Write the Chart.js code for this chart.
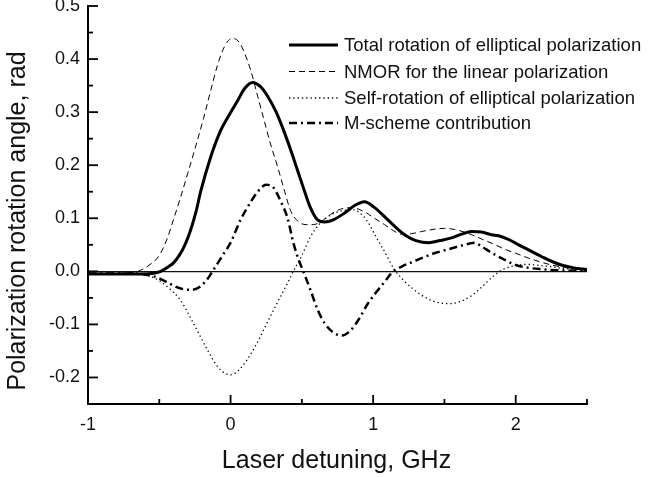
<!DOCTYPE html>
<html>
<head>
<meta charset="utf-8">
<script src="https://cdn.jsdelivr.net/npm/chart.js@4.4.1/dist/chart.umd.min.js"></script>
<style>
  html, body { margin: 0; padding: 0; background: #fff; }
  #wrap { width: 648px; height: 477px; }
</style>
</head>
<body>
<div id="wrap"><canvas id="chart" width="648" height="477"></canvas></div>
<script>
/* Polarization rotation vs laser detuning — four curves */
const FONT = '"Liberation Sans", Arial, sans-serif';

// series labels
const labels = [
  "Total rotation of elliptical polarization",
  "NMOR for the linear polarization",
  "Self-rotation of elliptical polarization",
  "M-scheme contribution",
];

// x axis ticks (GHz) and y axis ticks (rad)
const xTicksMajor = [-1, 0, 1, 2];
const yTicksMajor = [-0.2, -0.1, 0.0, 0.1, 0.2, 0.3, 0.4, 0.5];

// total rotation (thick solid)
const totalX = [-1, -0.7, -0.55, -0.49, -0.44, -0.4, -0.36, -0.32, -0.28, -0.24, -0.21, -0.14, -0.07, -0.02, 0.05, 0.1, 0.155, 0.21, 0.26, 0.32, 0.37, 0.42, 0.47, 0.52, 0.56, 0.61, 0.66, 0.72, 0.8, 0.87, 0.94, 1.01, 1.08, 1.15, 1.22, 1.3, 1.39, 1.47, 1.55, 1.62, 1.69, 1.76, 1.83, 1.88, 1.95, 2.02, 2.1, 2.18, 2.25, 2.32, 2.4, 2.5];
const totalY = [-0.005, -0.005, -0.004, 0.0, 0.008, 0.016, 0.03, 0.05, 0.078, 0.115, 0.15, 0.215, 0.265, 0.29, 0.322, 0.345, 0.356, 0.348, 0.33, 0.3, 0.267, 0.23, 0.19, 0.15, 0.12, 0.097, 0.093, 0.097, 0.11, 0.124, 0.131, 0.12, 0.103, 0.085, 0.069, 0.058, 0.054, 0.058, 0.063, 0.07, 0.075, 0.074, 0.069, 0.067, 0.06, 0.05, 0.039, 0.028, 0.019, 0.012, 0.007, 0.003];

// NMOR, linear polarization (thin dashed)
const nmorX = [-1, -0.75, -0.65, -0.58, -0.5, -0.44, -0.4, -0.35, -0.3, -0.24, -0.19, -0.14, -0.09, -0.04, 0.01, 0.06, 0.1, 0.14, 0.19, 0.23, 0.28, 0.33, 0.38, 0.42, 0.47, 0.53, 0.58, 0.64, 0.7, 0.77, 0.85, 0.94, 1.01, 1.08, 1.14, 1.2, 1.27, 1.34, 1.42, 1.5, 1.57, 1.64, 1.7, 1.76, 1.84, 1.92, 2.0, 2.09, 2.17, 2.25, 2.35, 2.44, 2.5];
const nmorY = [-0.004, -0.003, 0.0, 0.01, 0.03, 0.065, 0.098, 0.14, 0.185, 0.24, 0.288, 0.34, 0.39, 0.425, 0.439, 0.432, 0.41, 0.38, 0.33, 0.29, 0.24, 0.197, 0.15, 0.115, 0.095, 0.088, 0.088, 0.095, 0.107, 0.117, 0.12, 0.112, 0.1, 0.088, 0.077, 0.07, 0.071, 0.075, 0.079, 0.081, 0.079, 0.074, 0.068, 0.061, 0.052, 0.042, 0.034, 0.025, 0.018, 0.012, 0.007, 0.004, 0.003];

// self-rotation of elliptical polarization (dotted)
const selfX = [-1, -0.7, -0.6, -0.51, -0.43, -0.35, -0.28, -0.2, -0.15, -0.09, -0.04, 0.0, 0.05, 0.12, 0.19, 0.26, 0.33, 0.4, 0.44, 0.5, 0.56, 0.62, 0.7, 0.78, 0.86, 0.92, 0.97, 1.02, 1.07, 1.15, 1.21, 1.27, 1.34, 1.41, 1.48, 1.53, 1.6, 1.69, 1.76, 1.83, 1.9, 1.98, 2.08, 2.2, 2.35, 2.5];
const selfY = [-0.004, -0.004, -0.006, -0.016, -0.032, -0.055, -0.088, -0.129, -0.154, -0.18, -0.192, -0.195, -0.188, -0.165, -0.133, -0.095, -0.058, -0.022, 0.0, 0.03, 0.065, 0.088, 0.106, 0.114, 0.116, 0.107, 0.09, 0.065, 0.042, 0.003, -0.016, -0.031, -0.045, -0.055, -0.06, -0.061, -0.058, -0.046, -0.03, -0.012, 0.002, 0.01, 0.013, 0.01, 0.005, 0.002];

// M-scheme contribution (dash-dot)
const mschX = [-1, -0.7, -0.6, -0.51, -0.45, -0.4, -0.34, -0.28, -0.22, -0.18, -0.15, -0.12, -0.06, 0.0, 0.07, 0.14, 0.19, 0.25, 0.3, 0.35, 0.4, 0.44, 0.48, 0.51, 0.56, 0.61, 0.66, 0.72, 0.78, 0.84, 0.9, 0.96, 1.02, 1.08, 1.13, 1.2, 1.28, 1.36, 1.44, 1.52, 1.6, 1.67, 1.71, 1.76, 1.83, 1.92, 2.0, 2.08, 2.18, 2.3, 2.5];
const mschY = [-0.004, -0.004, -0.006, -0.012, -0.02, -0.027, -0.033, -0.035, -0.03, -0.02, -0.01, 0.003, 0.028, 0.054, 0.097, 0.13, 0.15, 0.163, 0.158, 0.133, 0.1, 0.054, 0.02, 0.0, -0.035, -0.072, -0.098, -0.115, -0.121, -0.112, -0.09, -0.062, -0.04, -0.02, -0.003, 0.009, 0.018, 0.027, 0.035, 0.041, 0.047, 0.052, 0.054, 0.047, 0.035, 0.022, 0.012, 0.007, 0.004, 0.002, 0.001];

const pts = (xs, ys) => xs.map((x, i) => ({ x, y: ys[i] }));

const isMajorX = (v) => xTicksMajor.some(t => Math.abs(t - v) < 1e-6);
const isMajorY = (v) => yTicksMajor.some(t => Math.abs(t - v) < 1e-6);

// legend drawn inside the plot, top right
const legendBox = { lineX0: 289, lineX1: 338, textX: 344, rows: [45, 71.5, 98, 123] };

const insideLegend = {
  id: "insideLegend",
  afterDatasetsDraw(chart) {
    const ctx = chart.ctx;
    ctx.save();
    ctx.font = `18.5px ${FONT}`;
    ctx.textBaseline = "middle";
    ctx.fillStyle = "#111";
    chart.data.datasets.forEach((ds, i) => {
      const y = legendBox.rows[i];
      ctx.save();
      ctx.strokeStyle = ds.borderColor;
      ctx.lineWidth = ds.borderWidth;
      ctx.setLineDash(ds.borderDash || []);
      ctx.beginPath();
      ctx.moveTo(legendBox.lineX0, y);
      ctx.lineTo(legendBox.lineX1, y);
      ctx.stroke();
      ctx.restore();
      ctx.fillText(ds.label, legendBox.textX, y + 1);
    });
    ctx.restore();
  }
};

// tick marks pointing into the plot, long for labelled ticks
const innerTicks = {
  id: "innerTicks",
  afterDraw(chart) {
    const { ctx, chartArea: a, scales: { x, y } } = chart;
    ctx.save();
    ctx.strokeStyle = "#000";
    ctx.lineWidth = 1.8;
    x.ticks.forEach(t => {
      const px = x.getPixelForValue(t.value);
      const len = isMajorX(t.value) ? 9 : 5;
      ctx.beginPath(); ctx.moveTo(px, a.bottom); ctx.lineTo(px, a.bottom - len); ctx.stroke();
    });
    y.ticks.forEach(t => {
      const py = y.getPixelForValue(t.value);
      const len = isMajorY(t.value) ? 10 : 5;
      ctx.beginPath(); ctx.moveTo(a.left, py); ctx.lineTo(a.left + len, py); ctx.stroke();
    });
    ctx.restore();
  }
};

// axis titles
const axisTitles = {
  id: "axisTitles",
  afterDraw(chart) {
    const { ctx, chartArea: a } = chart;
    ctx.save();
    ctx.fillStyle = "#111";
    ctx.font = `25px ${FONT}`;
    ctx.textAlign = "center";
    ctx.textBaseline = "alphabetic";
    ctx.fillText("Laser detuning, GHz", (a.left + a.right) / 2 - 1, 468);
    ctx.translate(25, 221);
    ctx.rotate(-Math.PI / 2);
    ctx.fillText("Polarization rotation angle, rad", 0, 0);
    ctx.restore();
  }
};

new Chart(document.getElementById("chart"), {
  type: "line",
  data: {
    datasets: [
      { label: labels[0], data: pts(totalX, totalY), borderColor: "#000", borderWidth: 3, borderDash: [] },
      { label: labels[1], data: pts(nmorX, nmorY), borderColor: "#000", borderWidth: 1, borderDash: [6, 4] },
      { label: labels[2], data: pts(selfX, selfY), borderColor: "#000", borderWidth: 1.3, borderDash: [1.3, 3] },
      { label: labels[3], data: pts(mschX, mschY), borderColor: "#000", borderWidth: 2.5, borderDash: [8, 4, 2, 4] },
    ]
  },
  options: {
    responsive: false,
    animation: false,
    layout: { padding: { top: 6, right: 61, left: 0, bottom: 0 } },
    elements: {
      point: { radius: 0 },
      line: { cubicInterpolationMode: "monotone", fill: false }
    },
    plugins: { legend: { display: false }, tooltip: { enabled: false } },
    scales: {
      x: {
        type: "linear", min: -1, max: 2.5,
        grid: { display: false, drawTicks: false },
        border: { display: true, color: "#000", width: 2 },
        ticks: {
          stepSize: 0.5, autoSkip: false, maxRotation: 0, padding: 10,
          color: "#111", font: { family: FONT, size: 18 },
          callback: (v) => isMajorX(v) ? String(Math.round(v)) : ""
        },
        afterFit: (s) => { s.height = 73; s.paddingLeft = 0; s.paddingRight = 0; }
      },
      y: {
        type: "linear", min: -0.25, max: 0.5,
        grid: {
          display: true, drawTicks: false, lineWidth: 1.3,
          color: (c) => (c.tick && Math.abs(c.tick.value) < 1e-9) ? "#111" : "rgba(0,0,0,0)"
        },
        border: { display: true, color: "#000", width: 2 },
        ticks: {
          stepSize: 0.05, autoSkip: false, padding: 8,
          color: "#111", font: { family: FONT, size: 18 },
          callback: (v) => isMajorY(v) ? (Math.round(v * 10) / 10).toFixed(1) : ""
        },
        afterFit: (s) => { s.width = 88; s.paddingTop = 0; s.paddingBottom = 0; }
      }
    }
  },
  plugins: [insideLegend, innerTicks, axisTitles]
});
</script>
</body>
</html>
